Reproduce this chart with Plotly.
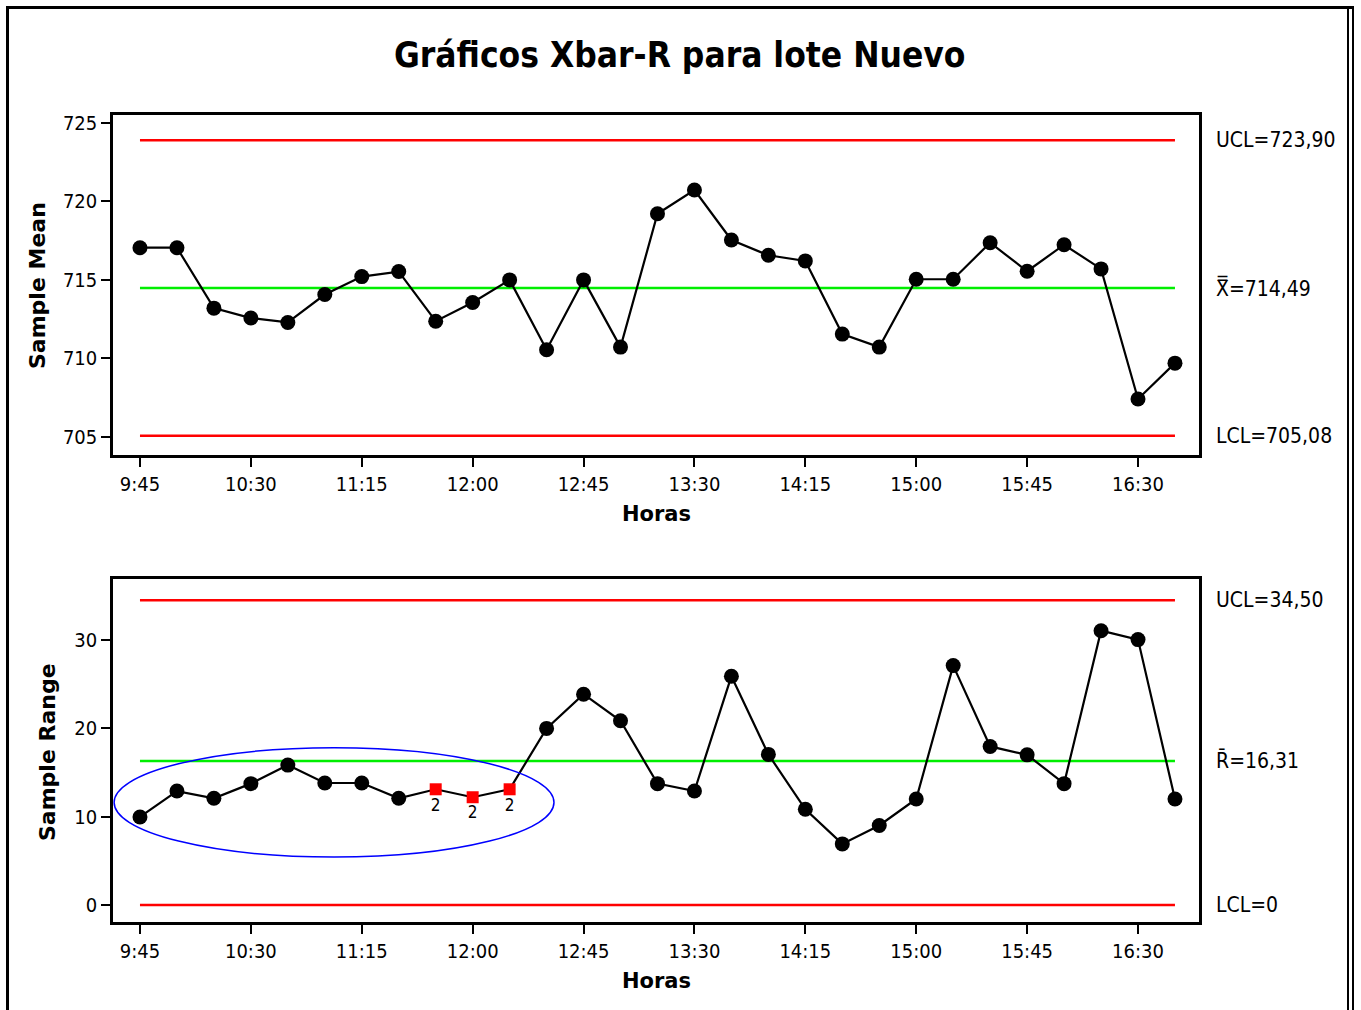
import plotly.graph_objects as go

# Sampling times (every 15 minutes)
horas = ["9:45", "10:00", "10:15", "10:30", "10:45", "11:00", "11:15", "11:30",
         "11:45", "12:00", "12:15", "12:30", "12:45", "13:00", "13:15", "13:30",
         "13:45", "14:00", "14:15", "14:30", "14:45", "15:00", "15:15", "15:30",
         "15:45", "16:00", "16:15", "16:30", "16:45"]
tick_labels = ["9:45", "10:30", "11:15", "12:00", "12:45", "13:30", "14:15",
               "15:00", "15:45", "16:30"]

# Subgroup means and ranges
media = [717.05, 717.05, 713.2, 712.57, 712.29, 714.07, 715.21, 715.53, 712.37,
         713.56, 715.0, 710.55, 715.0, 710.72, 719.21, 720.72, 717.54, 716.57,
         716.21, 711.55, 710.72, 715.04, 715.04, 717.37, 715.55, 717.24, 715.7,
         707.42, 709.7]
rango = [9.97, 12.9, 12.08, 13.74, 15.84, 13.81, 13.81, 12.08, 13.1, 12.2, 13.1,
         19.99, 23.86, 20.85, 13.74, 12.9, 25.9, 17.05, 10.84, 6.92, 9.0, 12.0,
         27.1, 17.95, 17.0, 13.74, 31.05, 30.04, 12.0]

# Control limits
xbar_ucl, xbar_cl, xbar_lcl = 723.90, 714.49, 705.08
r_ucl, r_cl, r_lcl = 34.50, 16.31, 0.0

# Subgroups flagged by test 2 on the R chart
flag_idx = [8, 9, 10]
flag_test = ["2", "2", "2"]

W, H = 1361, 1010
def px(x):
    return x / W
def py(y):
    return 1 - y / H

narrow = "Liberation Sans Narrow, DejaVu Sans Condensed, Arial Narrow, sans-serif"
tick_font = dict(family=narrow, size=20, color="black")
title_font = dict(family="DejaVu Sans, Arial, sans-serif", size=21, color="black")

fig = go.Figure()

def add_limits(xa, ya, ucl, cl, lcl):
    for val, col in [(ucl, "#ff0000"), (lcl, "#ff0000"), (cl, "#00ee00")]:
        fig.add_trace(go.Scatter(x=[horas[0], horas[-1]], y=[val, val], mode="lines",
                                 line=dict(color=col, width=2.5), xaxis=xa, yaxis=ya,
                                 hoverinfo="skip", showlegend=False))

# Xbar chart
add_limits("x", "y", xbar_ucl, xbar_cl, xbar_lcl)
fig.add_trace(go.Scatter(x=horas, y=media, mode="lines+markers",
                         line=dict(color="black", width=2.2),
                         marker=dict(color="black", size=15, symbol="circle"),
                         xaxis="x", yaxis="y", showlegend=False))

# R chart: connecting line, normal points, then flagged subgroups as red squares
add_limits("x2", "y2", r_ucl, r_cl, r_lcl)
fig.add_trace(go.Scatter(x=horas, y=rango, mode="lines",
                         line=dict(color="black", width=2.2),
                         xaxis="x2", yaxis="y2", showlegend=False))
ok_idx = [i for i in range(len(rango)) if i not in flag_idx]
fig.add_trace(go.Scatter(x=[horas[i] for i in ok_idx], y=[rango[i] for i in ok_idx],
                         mode="markers",
                         marker=dict(color="black", size=15, symbol="circle", opacity=1),
                         xaxis="x2", yaxis="y2", showlegend=False))
fig.add_trace(go.Scatter(x=[horas[i] for i in flag_idx], y=[rango[i] for i in flag_idx],
                         mode="markers+text", text=flag_test, textposition="bottom center",
                         textfont=dict(family=narrow, size=17, color="black"),
                         marker=dict(color="#ff0000", size=12, symbol="square",
                                     line=dict(width=0), opacity=1),
                         xaxis="x2", yaxis="y2", showlegend=False))

xr = [-0.73, 28.65]
common_x = dict(type="category", categoryorder="array", categoryarray=horas,
                range=xr, tickmode="array", tickvals=tick_labels, ticktext=tick_labels,
                ticks="outside", ticklen=9, tickwidth=2, tickcolor="black",
                showline=True, linewidth=2.5, linecolor="black", mirror=True,
                showgrid=False, zeroline=False, tickfont=tick_font, automargin=False)
common_y = dict(ticks="outside", ticklen=9, tickwidth=2, tickcolor="black",
                showline=True, linewidth=2.5, linecolor="black", mirror=True,
                showgrid=False, zeroline=False, tickfont=tick_font, automargin=False)

dom_x = [px(113), px(1199)]
fig.update_layout(
    width=W, height=H,
    margin=dict(l=0, r=0, t=0, b=0),
    paper_bgcolor="white", plot_bgcolor="white",
    xaxis=dict(domain=dom_x, anchor="y", **common_x),
    yaxis=dict(domain=[py(455), py(115)], anchor="x", range=[703.85, 725.5],
               tickvals=[705, 710, 715, 720, 725], **common_y),
    xaxis2=dict(domain=dom_x, anchor="y2", **common_x),
    yaxis2=dict(domain=[py(922), py(579)], anchor="x2", range=[-1.92, 36.9],
                tickvals=[0, 10, 20, 30], **common_y),
)

ann = []
# Title
ann.append(dict(text="<b>Gráficos Xbar-R para lote Nuevo</b>", x=px(679), y=py(55),
                xref="paper", yref="paper", showarrow=False, xanchor="center", yanchor="middle",
                font=dict(family=narrow, size=35, color="black")))
# Axis titles
for txt, x, y in [("Sample Mean", 37, 286), ("Sample Range", 47, 752)]:
    ann.append(dict(text="<b>%s</b>" % txt, x=px(x), y=py(y), xref="paper", yref="paper",
                    showarrow=False, textangle=-90, xanchor="center", yanchor="middle",
                    font=dict(family=title_font["family"], size=22, color="black")))
for y in [514, 981]:
    ann.append(dict(text="<b>Horas</b>", x=px(656), y=py(y), xref="paper", yref="paper",
                    showarrow=False, xanchor="center", yanchor="middle", font=title_font))
# Control limit labels
lab_font = dict(family=narrow, size=21, color="black")
for txt, val, ya in [("UCL=%.2f" % xbar_ucl, xbar_ucl, "y"),
                     ("X\u033F=%.2f" % xbar_cl, xbar_cl, "y"),
                     ("LCL=%.2f" % xbar_lcl, xbar_lcl, "y"),
                     ("UCL=%.2f" % r_ucl, r_ucl, "y2"),
                     ("R\u0304=%.2f" % r_cl, r_cl, "y2"),
                     ("LCL=%g" % r_lcl, r_lcl, "y2")]:
    ann.append(dict(text=txt.replace(".", ","), x=px(1214), y=val, xref="paper", yref=ya,
                    showarrow=False, xanchor="left", yanchor="middle", font=lab_font))
fig.update_layout(annotations=ann)

# Highlight around the run of small ranges
fig.add_shape(type="circle", xref="x2", yref="y2", x0=-0.70, x1=11.2, y0=5.43, y1=17.8,
              line=dict(color="#0000ff", width=1.5))

# Page frame
frame = dict(color="black", width=3)
fig.add_shape(type="line", xref="paper", yref="paper", x0=px(7.5), x1=px(7.5), y0=py(7), y1=py(1010), line=frame)
fig.add_shape(type="line", xref="paper", yref="paper", x0=px(6), x1=px(1354), y0=py(7.5), y1=py(7.5), line=frame)
fig.add_shape(type="line", xref="paper", yref="paper", x0=px(1348), x1=px(1348), y0=py(7), y1=py(1010),
              line=dict(color="black", width=2))
fig.add_shape(type="line", xref="paper", yref="paper", x0=px(1353), x1=px(1353), y0=py(6), y1=py(1010),
              line=dict(color="black", width=2))

fig.write_html("out.html")
